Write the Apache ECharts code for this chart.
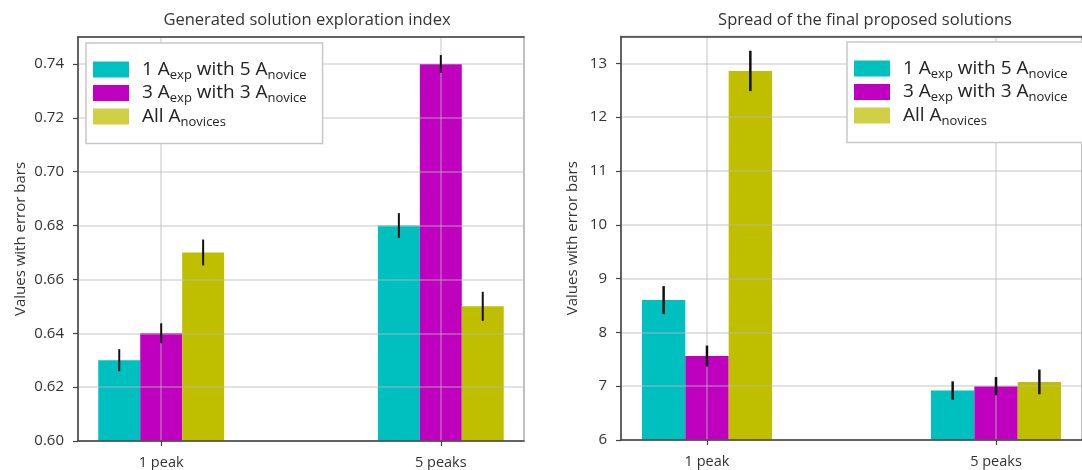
<!DOCTYPE html>
<html><head><meta charset="utf-8">
<script src="https://cdn.jsdelivr.net/npm/echarts@6/dist/echarts.min.js"></script>
<style>html,body{margin:0;padding:0;background:#fff}#c{width:1082px;height:470px}</style>
</head><body><div id="c"></div>
<script>
// ---- data ----
const categories = ['1 peak', '5 peaks'];
const seriesNames = ['1 Aexp with 5 Anovice', '3 Aexp with 3 Anovice', 'All Anovices'];
const legendLabels = [
  '{sp| }{m|1 A}{s|exp}{m| with 5 A}{s|novice}',
  '{sp| }{m|3 A}{s|exp}{m| with 3 A}{s|novice}',
  '{sp| }{m|All A}{s|novices}'
];
const leftTitle = 'Generated solution exploration index';
const rightTitle = 'Spread of the final proposed solutions';
const yAxisName = 'Values with error bars';
const leftYTicks = [0.60, 0.62, 0.64, 0.66, 0.68, 0.70, 0.72, 0.74];
const rightYTicks = [6, 7, 8, 9, 10, 11, 12, 13];

const exploreMean1 = [0.630, 0.680];
const exploreErr1  = [0.0041, 0.0046];
const exploreMean2 = [0.640, 0.740];
const exploreErr2  = [0.0037, 0.0033];
const exploreMean3 = [0.670, 0.650];
const exploreErr3  = [0.0048, 0.0054];

const spreadMean1 = [8.60, 6.92];
const spreadErr1  = [0.26, 0.17];
const spreadMean2 = [7.56, 7.00];
const spreadErr2  = [0.195, 0.17];
const spreadMean3 = [12.86, 7.08];
const spreadErr3  = [0.375, 0.23];

// ---- styles ----
const F = '"Open Sans", "Noto Sans", sans-serif';
const COLORS = ['#00BFBF', '#BF00BF', '#BFBF00'];
const LEGEND_COLORS = ['#00C0C0', '#C000C0', '#D0D046'];
const OFFSETS = [-0.15, 0, 0.15];
const BAR_W = 0.15;
const XMIN = -0.2975, XMAX = 1.2975;
const catPos = categories.map((c, i) => i);
const GRID_LINE = 'rgba(185,185,185,0.55)';
const SPINE = '#444';

function xAxisCfg(gi) {
  return {
    type: 'value', gridIndex: gi, min: XMIN, max: XMAX, z: 3,
    axisLine: { show: true, onZero: false, lineStyle: { color: SPINE, width: 1.5 } },
    axisTick: { show: true, customValues: catPos, length: 5, lineStyle: { color: SPINE, width: 1.2 } },
    axisLabel: { customValues: catPos, formatter: v => categories[Math.round(v)], fontSize: 14.5, color: '#333', margin: 14, fontFamily: F },
    splitLine: { show: true, lineStyle: { color: GRID_LINE, width: 1.5 } }
  };
}
function topAxisCfg(gi) {
  return {
    type: 'value', gridIndex: gi, position: 'top', min: XMIN, max: XMAX, z: 3,
    axisLine: { show: true, onZero: false, lineStyle: { color: SPINE, width: 1.5 } },
    axisTick: { show: false }, axisLabel: { show: false }, splitLine: { show: false }
  };
}
function yAxisCfg(gi, ticks, min, max, digits, gap) {
  return {
    type: 'value', gridIndex: gi, min, max, z: 3,
    name: yAxisName, nameLocation: 'middle', nameGap: gap,
    nameTextStyle: { fontSize: 15, color: '#333', fontFamily: F },
    axisLine: { show: true, onZero: false, lineStyle: { color: SPINE, width: 1.5 } },
    axisTick: { show: true, customValues: ticks, length: 5, lineStyle: { color: SPINE, width: 1.2 } },
    axisLabel: { customValues: ticks, formatter: v => v.toFixed(digits), fontSize: 15, color: '#333', margin: 14, fontFamily: F },
    splitLine: { show: true, lineStyle: { color: GRID_LINE, width: 1.5 } }
  };
}
function barSeries(k, means, xi, yi) {
  const off = OFFSETS[k];
  return {
    type: 'custom', name: seriesNames[k], xAxisIndex: xi, yAxisIndex: yi, z: 1,
    itemStyle: { color: COLORS[k] },
    data: means.map((m, i) => [catPos[i], m]),
    renderItem: (params, api) => {
      const x = api.value(0) + off;
      const p0 = api.coord([x - BAR_W / 2, api.value(1)]);
      const p1 = api.coord([x + BAR_W / 2, api.value(1)]);
      const bottom = params.coordSys.y + params.coordSys.height;
      return { type: 'rect', shape: { x: p0[0], y: p0[1], width: p1[0] - p0[0], height: bottom - p0[1] },
               style: { fill: api.visual('color') } };
    }
  };
}
function errSeries(k, means, errs, xi, yi, lw) {
  const off = OFFSETS[k];
  return {
    type: 'custom', xAxisIndex: xi, yAxisIndex: yi, z: 6, silent: true,
    data: means.map((m, i) => [catPos[i], m, errs[i]]),
    renderItem: (params, api) => {
      const x = api.value(0) + off;
      const a = api.coord([x, api.value(1) + api.value(2)]);
      const b = api.coord([x, api.value(1) - api.value(2)]);
      return { type: 'line', shape: { x1: a[0], y1: a[1], x2: b[0], y2: b[1] }, style: { stroke: '#111', lineWidth: lw } };
    }
  };
}
function legendCfg(left, top) {
  return {
    left, top, orient: 'vertical', itemWidth: 36, itemHeight: 16, itemGap: 2,
    padding: [17, 16, 15, 7], backgroundColor: '#fff', borderColor: '#c8c8c8', borderWidth: 1.5,
    z: 10, selectedMode: false, icon: 'rect',
    data: seriesNames.map((n, i) => ({ name: n, itemStyle: { color: LEGEND_COLORS[i] } })),
    formatter: name => legendLabels[seriesNames.indexOf(name)],
    textStyle: {
      fontFamily: F, color: '#222',
      rich: {
        sp: { width: 8, fontSize: 10, lineHeight: 24 },
        m: { fontSize: 19, fontFamily: F, color: '#222', lineHeight: 24, verticalAlign: 'middle' },
        s: { fontSize: 13, fontFamily: F, color: '#222', lineHeight: 14, verticalAlign: 'bottom' }
      }
    }
  };
}

const option = {
  animation: false,
  backgroundColor: '#fff',
  title: [
    { text: leftTitle, left: 302, top: 7, textAlign: 'center', textStyle: { fontSize: 16.5, fontWeight: 'normal', color: '#333', fontFamily: F } },
    { text: rightTitle, left: 860, top: 7, textAlign: 'center', textStyle: { fontSize: 16.5, fontWeight: 'normal', color: '#333', fontFamily: F } }
  ],
  legend: [legendCfg(86, 43), legendCfg(847, 42)],
  grid: [
    { left: 78, top: 37, width: 446, height: 405, show: true, borderColor: '#aaa', borderWidth: 1.5, backgroundColor: 'transparent' },
    { left: 621, top: 36.5, width: 471, height: 403.5, show: true, borderColor: '#aaa', borderWidth: 1.5, backgroundColor: 'transparent' }
  ],
  xAxis: [xAxisCfg(0), xAxisCfg(1), topAxisCfg(0), topAxisCfg(1)],
  yAxis: [yAxisCfg(0, leftYTicks, 0.60, 0.75, 2, 50), yAxisCfg(1, rightYTicks, 6, 13.5, 0, 41)],
  series: [
    barSeries(0, exploreMean1, 0, 0), barSeries(1, exploreMean2, 0, 0), barSeries(2, exploreMean3, 0, 0),
    errSeries(0, exploreMean1, exploreErr1, 0, 0, 2), errSeries(1, exploreMean2, exploreErr2, 0, 0, 2), errSeries(2, exploreMean3, exploreErr3, 0, 0, 2),
    barSeries(0, spreadMean1, 1, 1), barSeries(1, spreadMean2, 1, 1), barSeries(2, spreadMean3, 1, 1),
    errSeries(0, spreadMean1, spreadErr1, 1, 1, 2.5), errSeries(1, spreadMean2, spreadErr2, 1, 1, 2.5), errSeries(2, spreadMean3, spreadErr3, 1, 1, 2.5)
  ]
};
const chart = echarts.init(document.getElementById('c'), null, { renderer: 'canvas' });
chart.setOption(option);
</script></body></html>
